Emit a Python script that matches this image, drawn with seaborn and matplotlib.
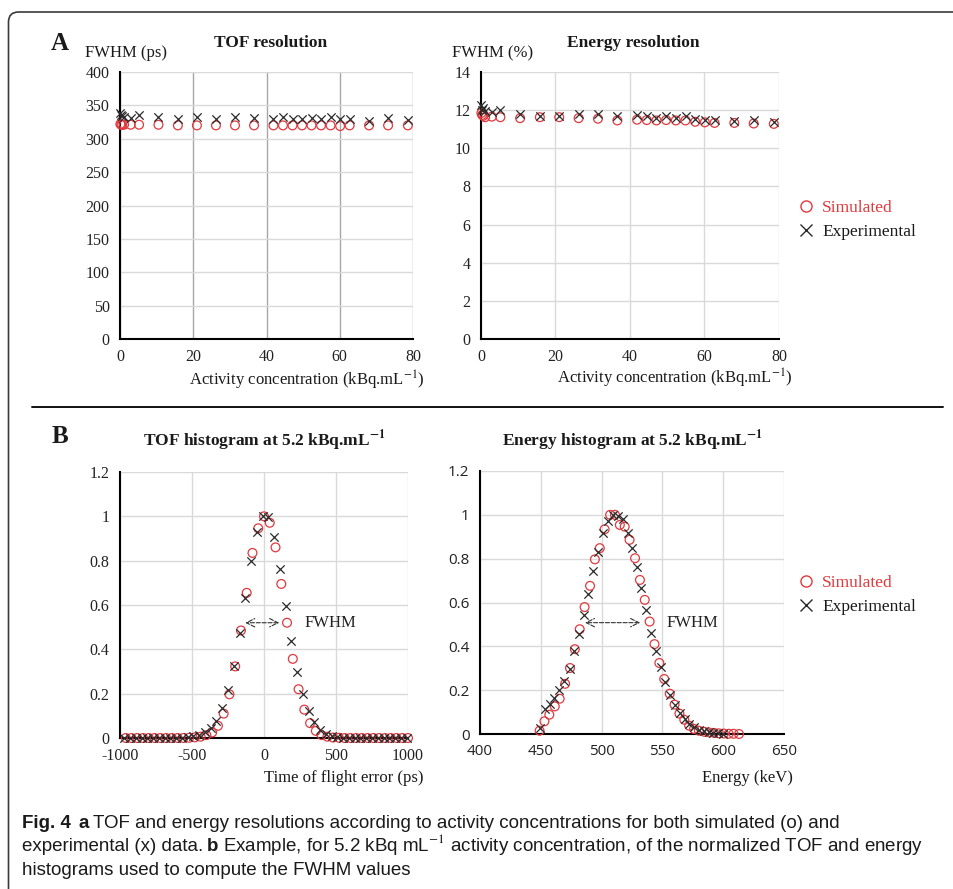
# Fig. 4 - TOF / energy resolutions and normalized histograms (simulated vs experimental)
import numpy as np
import pandas as pd
import matplotlib
matplotlib.use("Agg")
import matplotlib.pyplot as plt
from matplotlib.lines import Line2D
from matplotlib.patches import FancyBboxPatch
import seaborn as sns

# ---- data ----
# panel A: activity concentration (kBq/mL)
conc = [0.1, 0.3, 0.6, 1.1, 2.9, 5.2, 10.5, 15.8, 21.0, 26.2, 31.4, 36.6,
        41.9, 44.5, 47.1, 49.7, 52.3, 54.9, 57.5, 60.1, 62.7, 68.0, 73.2, 78.6]
tof_sim = [322, 321, 321, 321, 321, 321, 321, 320, 320, 320, 320, 320,
           320, 320, 320, 320, 320, 320, 320, 319, 320, 320, 320, 320]
tof_exp = [338, 335, 334, 332, 331, 335, 332, 330, 333, 330, 332, 331,
           330, 332, 330, 330, 331, 330, 332, 329, 329, 327, 331, 328]
en_sim = [11.85, 11.75, 11.7, 11.63, 11.66, 11.63, 11.58, 11.63, 11.63, 11.58, 11.55, 11.46,
          11.5, 11.48, 11.46, 11.48, 11.46, 11.46, 11.39, 11.36, 11.33, 11.33, 11.3, 11.28]
en_exp = [12.29, 12.02, 12.1, 11.94, 11.88, 12.02, 11.8, 11.67, 11.67, 11.8, 11.8, 11.67,
          11.76, 11.67, 11.59, 11.71, 11.59, 11.71, 11.54, 11.46, 11.46, 11.41, 11.5, 11.36]

# panel B: TOF histogram (ps, normalized counts)
tof_x_sim = [-960, -920, -880, -840, -800, -760, -720, -680, -640, -600, -560,
             -520, -480, -440, -400, -360, -320, -280, -240, -200, -160, -120, -80, -40,
             0, 40, 80, 120, 160, 200, 240, 280, 320, 360, 400, 440, 480, 520,
             560, 600, 640, 680, 720, 760, 800, 840, 880, 920, 960, 1000]
tof_h_sim = [0, 0, 0, 0, 0, 0, 0, 0, 0, 0, 0,
             0.001, 0.003, 0.006, 0.013, 0.025, 0.055, 0.11, 0.197, 0.323, 0.485, 0.655, 0.835, 0.946,
             1.0, 0.971, 0.86, 0.695, 0.52, 0.357, 0.22, 0.128, 0.067, 0.032, 0.013, 0.006, 0.002, 0.001,
             0, 0, 0, 0, 0, 0, 0, 0, 0, 0, 0, 0]
tof_x_exp = [-970, -930, -890, -850, -810, -770, -730, -690, -650, -610, -570,
             -530, -490, -450, -410, -370, -330, -290, -250, -210, -170, -130, -90, -50,
             -10, 30, 70, 110, 150, 190, 230, 270, 310, 350, 390, 430, 470, 510,
             550, 590, 630, 670, 710, 750, 790, 830, 870, 910, 950, 990]
tof_h_exp = [0, 0, 0, 0, 0, 0, 0, 0, 0, 0, 0,
             0.003, 0.007, 0.015, 0.028, 0.047, 0.078, 0.135, 0.218, 0.327, 0.475, 0.633, 0.797, 0.93,
             1.0, 0.995, 0.908, 0.762, 0.596, 0.438, 0.299, 0.198, 0.12, 0.072, 0.038, 0.018, 0.008, 0.003,
             0, 0, 0, 0, 0, 0, 0, 0, 0, 0, 0, 0]

# panel B: energy histogram (keV, normalized counts)
en_x_sim = [449, 453, 457, 461.5, 465.5, 470, 474, 478, 482, 486, 490.5, 494.5, 498.5, 502.5,
            507, 511, 515, 519, 523, 527.5, 531.5, 535.5, 539.5, 543.5, 547.5, 551.5, 556,
            560, 564, 568, 572, 576, 580, 584.5, 588.5, 592.5, 596.5, 600.5, 604.5, 608.5, 613]
en_h_sim = [0.015, 0.058, 0.088, 0.126, 0.161, 0.229, 0.301, 0.387, 0.478, 0.579, 0.676, 0.797,
            0.848, 0.934, 1.0, 1.0, 0.954, 0.946, 0.886, 0.802, 0.703, 0.612, 0.513, 0.41, 0.324,
            0.251, 0.184, 0.134, 0.093, 0.065, 0.038, 0.023, 0.015, 0.01, 0.007, 0.005, 0.003,
            0.002, 0.001, 0.001, 0.0]
en_x_exp = [449.3, 453.4, 457.5, 460.8, 464.9, 469.3, 473.9, 477.5, 481.3, 485.4, 489, 493.1,
            497.2, 501.3, 505.4, 509.5, 513.6, 517.7, 521.3, 525.1, 529.2, 532.8, 536.9, 541,
            544.6, 548.7, 552.5, 556.1, 560.2, 564.3, 568.4, 572, 576.1, 580, 584, 588, 592, 596, 600]
en_h_exp = [0.027, 0.114, 0.138, 0.164, 0.202, 0.243, 0.296, 0.377, 0.456, 0.544, 0.64, 0.746,
            0.832, 0.916, 0.974, 1.0, 0.995, 0.98, 0.919, 0.848, 0.764, 0.665, 0.564, 0.463,
            0.377, 0.305, 0.235, 0.179, 0.134, 0.096, 0.068, 0.047, 0.03, 0.02, 0.013, 0.008,
            0.005, 0.003, 0.002]

hist_ticks = [0, 0.2, 0.4, 0.6, 0.8, 1.0, 1.2]
hist_tick_labels = ["0", "0.2", "0.4", "0.6", "0.8", "1", "1.2"]

RED = "#e0393e"
BLACK = "#2b2b2b"
SERIF = "Liberation Serif"

sns.set_style("white")
plt.rcParams["font.family"] = [SERIF, "DejaVu Serif"]
plt.rcParams["mathtext.fontset"] = "stix"
plt.rcParams["axes.unicode_minus"] = False

W, H = 954, 889
fig = plt.figure(figsize=(W / 100, H / 100), dpi=100)


def px_axes(x0, y0, x1, y1):
    # axes from pixel box (top-left origin)
    return fig.add_axes([x0 / W, 1 - y1 / H, (x1 - x0) / W, (y1 - y0) / H])


def style_axes(ax, vgrid="#d9d9d9", tickfont=SERIF, size=11.5):
    ax.set_facecolor("none")
    sns.despine(ax=ax)
    for side in ["left", "bottom"]:
        ax.spines[side].set_linewidth(1.5)
        ax.spines[side].set_color("black")
    ax.set_axisbelow(True)
    ax.yaxis.grid(True, color="#d9d9d9", lw=1.0)
    ax.xaxis.grid(True, color=vgrid, lw=1.0)
    ax.tick_params(direction="inout", length=7, width=1.3, color="black",
                   labelsize=size, pad=4, labelcolor="#222222")
    for lab in ax.get_xticklabels() + ax.get_yticklabels():
        lab.set_family(tickfont)
    ax.set_xlabel("")
    ax.set_ylabel("")


def plot_pair(ax, xs, ys, xe, ye):
    sns.scatterplot(x=xs, y=ys, ax=ax, marker="o", s=40, facecolor="none",
                    edgecolor=RED, linewidth=0.9, clip_on=False, zorder=3)
    sns.scatterplot(x=xe, y=ye, ax=ax, marker="x", s=36, color=BLACK,
                    linewidth=0.9, clip_on=False, zorder=4)


# ---- A: TOF resolution ----
ax1 = px_axes(120, 72, 413, 339)
plot_pair(ax1, conc, tof_sim, conc, tof_exp)
ax1.set_xlim(0, 80)
ax1.set_ylim(0, 400)
ax1.set_xticks([0, 20, 40, 60, 80])
ax1.set_yticks(range(0, 401, 50))
style_axes(ax1, vgrid="#a8a8a8")

# ---- A: Energy resolution ----
ax2 = px_axes(481, 72, 779, 339)
plot_pair(ax2, conc, en_sim, conc, en_exp)
ax2.set_xlim(0, 80)
ax2.set_ylim(0, 14)
ax2.set_xticks([0, 20, 40, 60, 80])
ax2.set_yticks(range(0, 15, 2))
style_axes(ax2)

# ---- B: TOF histogram ----
ax3 = px_axes(120, 472, 408, 738)
plot_pair(ax3, tof_x_sim, tof_h_sim, tof_x_exp, tof_h_exp)
ax3.set_xlim(-1000, 1000)
ax3.set_ylim(0, 1.2)
ax3.set_xticks([-1000, -500, 0, 500, 1000])
ax3.set_yticks(hist_ticks)
ax3.set_yticklabels(hist_tick_labels)
style_axes(ax3)
ax3.annotate("", xy=(-150, 0.52), xytext=(125, 0.52),
             arrowprops=dict(arrowstyle="<->,head_length=0.6,head_width=0.3",
                             ls="--", lw=0.8, color="#333333"))
ax3.text(280, 0.52, "FWHM", fontsize=12, va="center", color="#222222")

# ---- B: Energy histogram ----
ax4 = px_axes(480, 471, 784, 734)
plot_pair(ax4, en_x_sim, en_h_sim, en_x_exp, en_h_exp)
ax4.set_xlim(400, 650)
ax4.set_ylim(0, 1.2)
ax4.set_xticks(range(400, 651, 50))
ax4.set_yticks(hist_ticks)
ax4.set_yticklabels(hist_tick_labels)
style_axes(ax4, tickfont="Open Sans", size=11)
ax4.annotate("", xy=(484, 0.508), xytext=(534, 0.508),
             arrowprops=dict(arrowstyle="<->,head_length=0.6,head_width=0.3",
                             ls="--", lw=0.8, color="#333333"))
ax4.text(553, 0.508, "FWHM", fontsize=12, va="center", color="#222222")


# ---- titles, labels, panel letters (pixel positions) ----
def ftext(x, y, s, **kw):
    kw.setdefault("color", "#1a1a1a")
    return fig.text(x / W, 1 - y / H, s, **kw)


ftext(60, 44, "A", fontsize=18, fontweight="bold", ha="center", va="center")
ftext(60, 437, "B", fontsize=18, fontweight="bold", ha="center", va="center")
ftext(271, 43, "TOF resolution", fontsize=12.5, fontweight="bold", ha="center", va="center")
ftext(633, 43, "Energy resolution", fontsize=12.5, fontweight="bold", ha="center", va="center")
ftext(85, 53, "FWHM (ps)", fontsize=12, ha="left", va="center")
ftext(452, 53, "FWHM (%)", fontsize=12, ha="left", va="center")
ftext(425, 380, "Activity concentration (kBq.mL$^{-1}$)", fontsize=12, ha="right", va="center")
ftext(793, 378, "Activity concentration (kBq.mL$^{-1}$)", fontsize=12, ha="right", va="center")
ftext(264, 441, r"TOF histogram at 5.2 kBq.mL$^{\mathbf{-1}}$", fontsize=12.5,
      fontweight="bold", ha="center", va="center")
ftext(632, 441, r"Energy histogram at 5.2 kBq.mL$^{\mathbf{-1}}$", fontsize=12.5,
      fontweight="bold", ha="center", va="center")
ftext(424, 778, "Time of flight error (ps)", fontsize=12, ha="right", va="center")
ftext(793, 778, "Energy (keV)", fontsize=12, ha="right", va="center")

# legends
handles = [Line2D([], [], marker="o", ls="", mfc="none", mec=RED, mew=1.0, ms=8),
           Line2D([], [], marker="x", ls="", color=BLACK, mew=1.0, ms=8)]
labels = ["Simulated", "Experimental"]
for top in [200, 575]:
    fig.legend(handles, labels, loc="upper left", bbox_to_anchor=(797 / W, 1 - top / H),
               frameon=False, fontsize=12.5, handlelength=1.0, handletextpad=0.45,
               labelspacing=0.45, borderpad=0, borderaxespad=0,
               labelcolor=[RED, "#1a1a1a"])

# frame and separator
frame = FancyBboxPatch((0.085, -0.5), 10.0, 8.77 + 0.5, boxstyle="round,pad=0,rounding_size=0.1",
                       transform=fig.dpi_scale_trans, fill=False, ec="#3a3a3a", lw=1.2)
fig.add_artist(frame)
fig.add_artist(Line2D([32 / W, 943 / W], [1 - 407 / H, 1 - 407 / H],
                      transform=fig.transFigure, color="#111111", lw=1.4))

# ---- caption with mixed bold / regular pieces ----
CAP_FONT = ["Liberation Sans Narrow", "Liberation Sans", "DejaVu Sans"]
renderer = fig.canvas.get_renderer()


def caption_line(y, parts):
    # y is the baseline in pixels
    x = 22
    for s, bold, gap in parts:
        t = ftext(x, y, s, fontsize=13.5, family=CAP_FONT, va="baseline", ha="left",
                  fontweight="bold" if bold else "normal", color="#1a1a1a")
        x += t.get_window_extent(renderer).width + gap


caption_line(828, [("Fig. 4", True, 8), ("a", True, 4),
                   ("TOF and energy resolutions according to activity concentrations for both simulated (o) and", False, 0)])
caption_line(851, [("experimental (x) data.", False, 4), ("b", True, 4),
                   ("Example, for 5.2 kBq mL$^{-1}$ activity concentration, of the normalized TOF and energy", False, 0)])
caption_line(875, [("histograms used to compute the FWHM values", False, 0)])

fig.savefig("out.png", dpi=100)
